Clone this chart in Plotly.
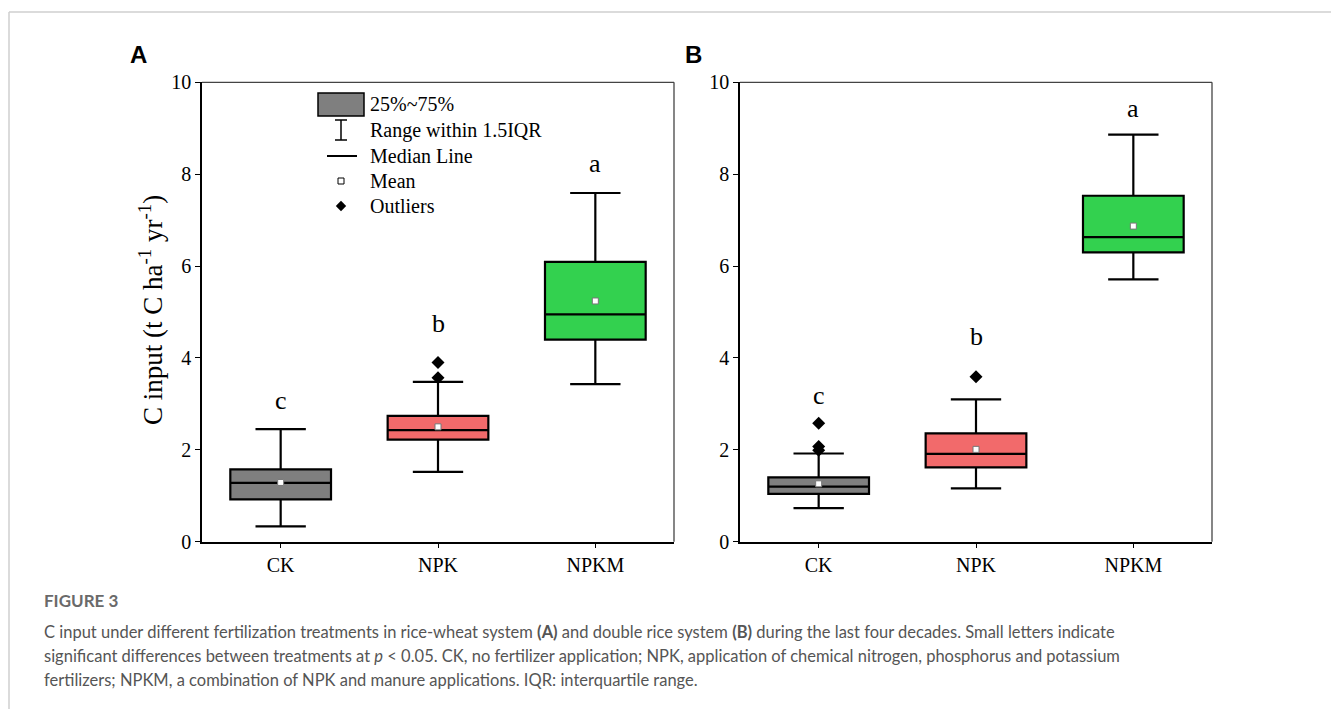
import plotly.graph_objects as go

# ---------------- data ----------------
categories = ["CK", "NPK", "NPKM"]
colors = ["#7f7f7f", "#f26a6b", "#33d14f"]

# Panel A: rice-wheat system
a_lower = [0.335, 1.52, 3.43]
a_q1 = [0.92, 2.22, 4.40]
a_median = [1.28, 2.43, 4.95]
a_q3 = [1.575, 2.74, 6.09]
a_upper = [2.45, 3.48, 7.59]
a_mean = [1.29, 2.50, 5.24]
a_outliers = [[], [3.57, 3.90], []]
a_letters = ["c", "b", "a"]
a_letter_y = [3.08, 4.76, 8.24]

# Panel B: double rice system
b_lower = [0.73, 1.16, 5.71]
b_q1 = [1.04, 1.62, 6.30]
b_median = [1.20, 1.91, 6.63]
b_q3 = [1.40, 2.36, 7.53]
b_upper = [1.92, 3.10, 8.86]
b_mean = [1.26, 2.01, 6.87]
b_outliers = [[1.99, 2.07, 2.58], [3.59], []]
b_letters = ["c", "b", "a"]
b_letter_y = [3.18, 4.47, 9.43]

y_ticks = [0, 2, 4, 6, 8, 10]

W, H = 1331, 709
SERIF = "Liberation Serif"

fig = go.Figure()

def add_panel(xa, ya, lower, q1, med, q3, upper, mean, outl):
    for i, c in enumerate(categories):
        fig.add_trace(go.Box(
            x=[i], q1=[q1[i]], median=[med[i]], q3=[q3[i]],
            lowerfence=[lower[i]], upperfence=[upper[i]],
            fillcolor=colors[i], line=dict(color="black", width=2.2),
            width=0.64, whiskerwidth=0.5, boxpoints=False,
            xaxis=xa, yaxis=ya, showlegend=False, hoverinfo="skip"))
    fig.add_trace(go.Scatter(
        x=list(range(3)), y=mean, mode="markers",
        marker=dict(symbol="square", size=6, color="white",
                    line=dict(color="#777", width=1)),
        xaxis=xa, yaxis=ya, showlegend=False, hoverinfo="skip"))
    ox, oy = [], []
    for i, vals in enumerate(outl):
        for v in vals:
            ox.append(i)
            oy.append(v)
    fig.add_trace(go.Scatter(
        x=ox, y=oy, mode="markers",
        marker=dict(symbol="diamond", size=10, color="black"),
        xaxis=xa, yaxis=ya, showlegend=False, hoverinfo="skip"))

add_panel("x", "y", a_lower, a_q1, a_median, a_q3, a_upper, a_mean, a_outliers)
add_panel("x2", "y2", b_lower, b_q1, b_median, b_q3, b_upper, b_mean, b_outliers)

y_bot = (H - 541.7) / H
y_top = (H - 82.3) / H

axis_common = dict(showline=True, linecolor="black", linewidth=1.5,
                   ticks="outside", ticklen=5, tickcolor="black", tickwidth=1.3,
                   showgrid=False, zeroline=False, automargin=False,
                   tickfont=dict(family=SERIF, size=20, color="black"))

fig.update_layout(
    width=W, height=H, autosize=False,
    margin=dict(l=0, r=0, t=0, b=0, pad=0),
    paper_bgcolor="white", plot_bgcolor="white",
    xaxis=dict(domain=[202 / W, 674 / W], range=[-0.5, 2.5],
               tickvals=[0, 1, 2], ticktext=categories, anchor="y", **axis_common),
    yaxis=dict(domain=[y_bot, y_top], range=[0, 10], tickvals=y_ticks,
               anchor="x", **axis_common),
    xaxis2=dict(domain=[740 / W, 1212 / W], range=[-0.5, 2.5],
                tickvals=[0, 1, 2], ticktext=categories, anchor="y2", **axis_common),
    yaxis2=dict(domain=[y_bot, y_top], range=[0, 10], tickvals=y_ticks,
                anchor="x2", **axis_common),
)

shapes = []
# top/right frame lines (gray)
for xr, yr in (("x domain", "y domain"), ("x2 domain", "y2 domain")):
    shapes.append(dict(type="line", xref=xr, yref=yr, x0=0, x1=1, y0=1, y1=1,
                       line=dict(color="#444", width=1.3)))
    shapes.append(dict(type="line", xref=xr, yref=yr, x0=1, x1=1, y0=0, y1=1,
                       line=dict(color="#444", width=1.3)))

# page frame lines
shapes.append(dict(type="line", xref="paper", yref="paper", x0=9 / W, x1=1,
                   y0=1 - 12 / H, y1=1 - 12 / H, line=dict(color="#cfcfcf", width=1.5)))
shapes.append(dict(type="line", xref="paper", yref="paper", x0=9 / W, x1=9 / W,
                   y0=0, y1=1 - 12 / H, line=dict(color="#cfcfcf", width=1.5)))

# custom legend in panel A (pixel positions converted to data coords)
def px2x(px):
    return -0.5 + (px - 202) / 472 * 3

def py2y(py):
    return (541.7 - py) / 45.94

shapes.append(dict(type="rect", xref="x", yref="y", x0=px2x(318), x1=px2x(364),
                   y0=py2y(116), y1=py2y(93), fillcolor="#7f7f7f",
                   line=dict(color="black", width=1.5)))
shapes.append(dict(type="line", xref="x", yref="y", x0=px2x(341), x1=px2x(341),
                   y0=py2y(140), y1=py2y(120), line=dict(color="black", width=1.5)))
for yy in (120, 140):
    shapes.append(dict(type="line", xref="x", yref="y", x0=px2x(335), x1=px2x(347),
                       y0=py2y(yy), y1=py2y(yy), line=dict(color="black", width=1.5)))
shapes.append(dict(type="line", xref="x", yref="y", x0=px2x(327), x1=px2x(357),
                   y0=py2y(156), y1=py2y(156), line=dict(color="black", width=1.8)))
fig.update_layout(shapes=shapes)

fig.add_trace(go.Scatter(x=[px2x(341)], y=[py2y(181)], mode="markers",
                         marker=dict(symbol="square", size=6, color="white",
                                     line=dict(color="black", width=1)),
                         xaxis="x", yaxis="y", showlegend=False, hoverinfo="skip"))
fig.add_trace(go.Scatter(x=[px2x(341)], y=[py2y(206)], mode="markers",
                         marker=dict(symbol="diamond", size=8, color="black"),
                         xaxis="x", yaxis="y", showlegend=False, hoverinfo="skip"))

annotations = []
legend_items = [("25%~75%", 104), ("Range within 1.5IQR", 130), ("Median Line", 156),
                ("Mean", 181), ("Outliers", 206)]
for txt, py in legend_items:
    annotations.append(dict(text=txt, x=px2x(368), y=py2y(py), xref="x", yref="y",
                            xanchor="left", yanchor="middle", showarrow=False,
                            font=dict(family=SERIF, size=20, color="black")))

# significance letters
for i in range(3):
    annotations.append(dict(text=a_letters[i], x=i, y=a_letter_y[i], xref="x", yref="y",
                            showarrow=False, font=dict(family=SERIF, size=26, color="black")))
    annotations.append(dict(text=b_letters[i], x=i, y=b_letter_y[i], xref="x2", yref="y2",
                            showarrow=False, font=dict(family=SERIF, size=26, color="black")))

# panel labels
annotations.append(dict(text="<b>A</b>", x=138 / W, y=1 - 55 / H, xref="paper", yref="paper",
                        xanchor="center", yanchor="middle",
                        showarrow=False, font=dict(family="Liberation Sans", size=24, color="black")))
annotations.append(dict(text="<b>B</b>", x=693 / W, y=1 - 55 / H, xref="paper", yref="paper",
                        xanchor="center", yanchor="middle",
                        showarrow=False, font=dict(family="Liberation Sans", size=24, color="black")))

# y-axis title
annotations.append(dict(text="C input (t C ha<sup>-1</sup> yr<sup>-1</sup>)", x=151 / W,
                        y=1 - 310 / H, xref="paper", yref="paper", textangle=-90,
                        xanchor="center", yanchor="middle",
                        showarrow=False, font=dict(family=SERIF, size=27, color="black")))

# caption
annotations.append(dict(text="<b>FIGURE 3</b>", x=42 / W, y=1 - 600 / H, xref="paper", yref="paper",
                        xanchor="left", yanchor="middle", showarrow=False,
                        font=dict(family="Lato", size=17, color="#6a6a6a")))
caption_lines = [
    "C input under different fertilization treatments in rice-wheat system <b>(A)</b> and double rice system <b>(B)</b> during the last four decades. Small letters indicate",
    "significant differences between treatments at <i>p</i> &lt; 0.05. CK, no fertilizer application; NPK, application of chemical nitrogen, phosphorus and potassium",
    "fertilizers; NPKM, a combination of NPK and manure applications. IQR: interquartile range.",
]
for k, line in enumerate(caption_lines):
    annotations.append(dict(text=line, x=42 / W, y=1 - (632 + 24 * k) / H, xref="paper",
                            yref="paper", xanchor="left", yanchor="middle", showarrow=False,
                            font=dict(family="Lato", size=16.5, color="#555")))

fig.update_layout(annotations=annotations)

fig.write_html("out.html", config={"displayModeBar": False},
               post_script="document.body.style.margin='0';document.body.style.overflow='hidden';")
